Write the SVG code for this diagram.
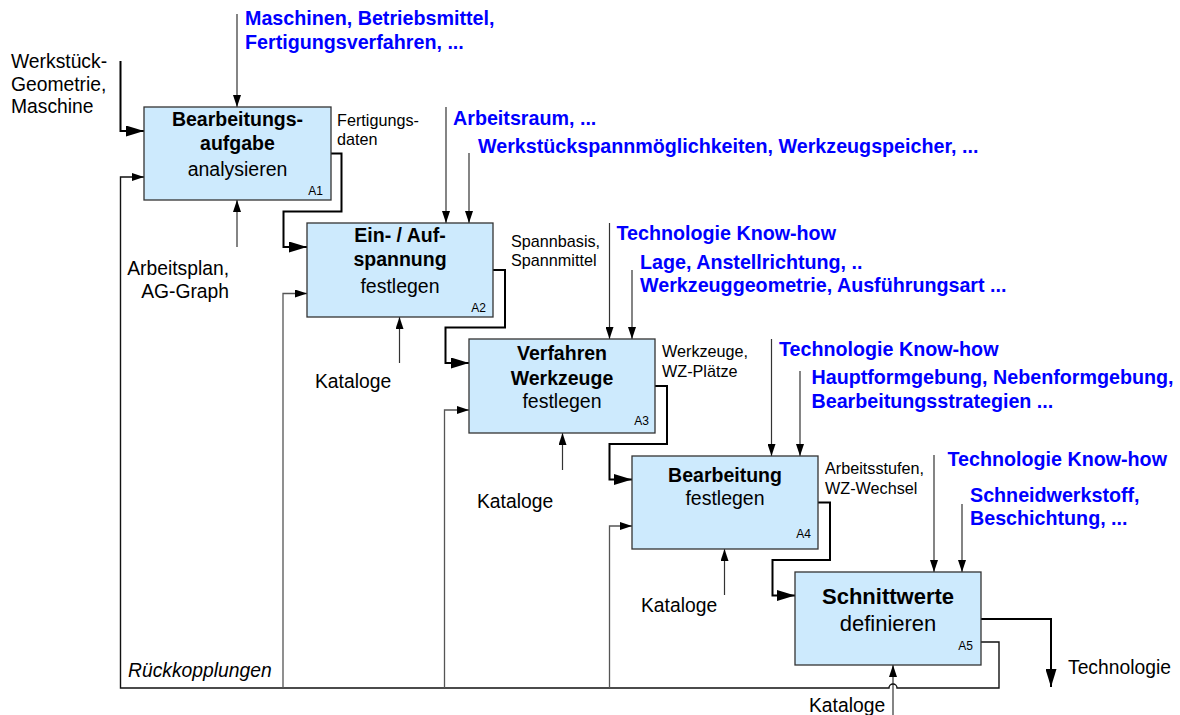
<svg xmlns="http://www.w3.org/2000/svg" width="1180" height="715" viewBox="0 0 1180 715">
<defs>
<style>
.box{fill:#cdeafd;stroke:#333;stroke-width:1.3}
.t{font-family:"Liberation Sans",Arial,sans-serif;fill:#000}
.bt{font-size:19.5px;text-anchor:middle}
.b{font-weight:bold}
.id{font-size:12px;text-anchor:end}
.lbl{font-size:19.3px}
.out{font-size:16.2px}
.blue{font-family:"Liberation Sans",Arial,sans-serif;font-size:19.7px;font-weight:bold;fill:#0000ff}
.thick{fill:none;stroke:#000;stroke-width:2}
.thin{fill:none;stroke:#333;stroke-width:1.2}
.fb{fill:none;stroke:#555;stroke-width:1.3}
.fbm{fill:none;stroke:#111;stroke-width:1.4}
</style>
<marker id="ah" viewBox="0 0 18 11" refX="18" refY="5.5" markerWidth="18" markerHeight="11" markerUnits="userSpaceOnUse" orient="auto"><path d="M0,0 L18,5.5 L0,11 z" fill="#000"/></marker>
<marker id="as" viewBox="0 0 12 8" refX="12" refY="4" markerWidth="12" markerHeight="8" markerUnits="userSpaceOnUse" orient="auto"><path d="M0,0 L12,4 L0,8 z" fill="#000"/></marker>
</defs>
<rect width="1180" height="715" fill="#fff"/>

<g id="connectors">
<path class="thick" d="M120.5,61 V131 H144" marker-end="url(#ah)"/>
<path class="thin" d="M237,14 V107" marker-end="url(#as)"/>
<path class="thin" d="M446,107 V223" marker-end="url(#as)"/>
<path class="thin" d="M469,153 V223" marker-end="url(#as)"/>
<path class="thin" d="M609.5,223 V339" marker-end="url(#as)"/>
<path class="thin" d="M632,270 V339" marker-end="url(#as)"/>
<path class="thin" d="M771.5,339 V456" marker-end="url(#as)"/>
<path class="thin" d="M800,371 V456" marker-end="url(#as)"/>
<path class="thin" d="M934,455 V572" marker-end="url(#as)"/>
<path class="thin" d="M962,504 V572" marker-end="url(#as)"/>
<path class="thin" d="M237,247 V200" marker-end="url(#as)"/>
<path class="thin" d="M399.5,363 V317" marker-end="url(#as)"/>
<path class="thin" d="M562.5,470 V433" marker-end="url(#as)"/>
<path class="thin" d="M724.5,595 V549" marker-end="url(#as)"/>
<path class="thin" d="M893,715 V665" marker-end="url(#as)"/>
<path class="thick" d="M331,153.5 H341.5 V211.5 H283.5 V247 H307" marker-end="url(#ah)"/>
<path class="thick" d="M493,270 H505 V327.5 H445.5 V363 H469" marker-end="url(#ah)"/>
<path class="thick" d="M655,386 H667 V444 H609.5 V479.5 H632" marker-end="url(#ah)"/>
<path class="thick" d="M818,502.5 H830 V560 H772.5 V595.5 H795" marker-end="url(#ah)"/>
<path class="thick" d="M981,619 H1051 V687" marker-end="url(#ah)"/>
<path class="fbm" d="M981,642 H999 V688 H897 A4,4 0 0 0 889,688 H120.5 V177 H144" marker-end="url(#as)"/>
<path class="fb" d="M283,688 V293.5 H307" marker-end="url(#as)"/>
<path class="fb" d="M444.5,688 V410 H469" marker-end="url(#as)"/>
<path class="fb" d="M609.5,688 V526 H632" marker-end="url(#as)"/>
</g>

<g id="A1">
<rect class="box" x="144" y="107" width="187" height="93"/>
<text class="t bt b" x="237.5" y="126">Bearbeitungs-</text>
<text class="t bt b" x="237.5" y="149.5">aufgabe</text>
<text class="t bt" x="237.5" y="175.5">analysieren</text>
<text class="t id" x="323" y="195">A1</text>
</g>
<g id="A2">
<rect class="box" x="307" y="223" width="186" height="94"/>
<text class="t bt b" x="400" y="242">Ein- / Auf-</text>
<text class="t bt b" x="400" y="266">spannung</text>
<text class="t bt" x="400" y="292.5">festlegen</text>
<text class="t id" x="486" y="312">A2</text>
</g>
<g id="A3">
<rect class="box" x="469" y="339" width="186" height="94"/>
<text class="t bt b" x="562" y="360">Verfahren</text>
<text class="t bt b" x="562" y="385">Werkzeuge</text>
<text class="t bt" x="562" y="407.5">festlegen</text>
<text class="t id" x="649" y="425">A3</text>
</g>
<g id="A4">
<rect class="box" x="632" y="456" width="186" height="93"/>
<text class="t bt b" x="725" y="482">Bearbeitung</text>
<text class="t bt" x="725" y="505">festlegen</text>
<text class="t id" x="811" y="538">A4</text>
</g>
<g id="A5">
<rect class="box" x="795" y="572" width="186" height="93"/>
<text class="t bt b" x="888" y="603.5" style="font-size:22px">Schnittwerte</text>
<text class="t bt" x="888" y="631" style="font-size:22px">definieren</text>
<text class="t id" x="973" y="650">A5</text>
</g>

<g id="labels">
<text class="t lbl" x="11" y="68">Werkstück-</text>
<text class="t lbl" x="11" y="90.5">Geometrie,</text>
<text class="t lbl" x="11" y="113">Maschine</text>
<text class="t lbl" x="229" y="275" text-anchor="end">Arbeitsplan,</text>
<text class="t lbl" x="229" y="297.5" text-anchor="end">AG-Graph</text>
<text class="t lbl" x="315" y="388">Kataloge</text>
<text class="t lbl" x="477" y="508">Kataloge</text>
<text class="t lbl" x="641" y="612">Kataloge</text>
<text class="t lbl" x="809" y="712">Kataloge</text>
<text class="t lbl" x="1068" y="674">Technologie</text>
<text class="t lbl" x="128" y="676.5" font-style="italic">Rückkopplungen</text>
<text class="t out" x="337" y="126">Fertigungs-</text>
<text class="t out" x="337" y="145">daten</text>
<text class="t out" x="511" y="247">Spannbasis,</text>
<text class="t out" x="511" y="266">Spannmittel</text>
<text class="t out" x="662" y="357">Werkzeuge,</text>
<text class="t out" x="662" y="376.5">WZ-Plätze</text>
<text class="t out" x="825" y="474">Arbeitsstufen,</text>
<text class="t out" x="825" y="494">WZ-Wechsel</text>
<text class="blue" x="245" y="25">Maschinen, Betriebsmittel,</text>
<text class="blue" x="245" y="48.5">Fertigungsverfahren, ...</text>
<text class="blue" x="453" y="125">Arbeitsraum, ...</text>
<text class="blue" x="478" y="152.5">Werkstückspannmöglichkeiten, Werkzeugspeicher, ...</text>
<text class="blue" x="616.5" y="240">Technologie Know-how</text>
<text class="blue" x="640" y="268.5">Lage, Anstellrichtung, ..</text>
<text class="blue" x="640" y="291.5">Werkzeuggeometrie, Ausführungsart ...</text>
<text class="blue" x="779" y="356">Technologie Know-how</text>
<text class="blue" x="811.5" y="384">Hauptformgebung, Nebenformgebung,</text>
<text class="blue" x="811.5" y="408">Bearbeitungsstrategien ...</text>
<text class="blue" x="947.5" y="466">Technologie Know-how</text>
<text class="blue" x="970" y="501.5">Schneidwerkstoff,</text>
<text class="blue" x="970" y="525">Beschichtung, ...</text>
</g>
</svg>
